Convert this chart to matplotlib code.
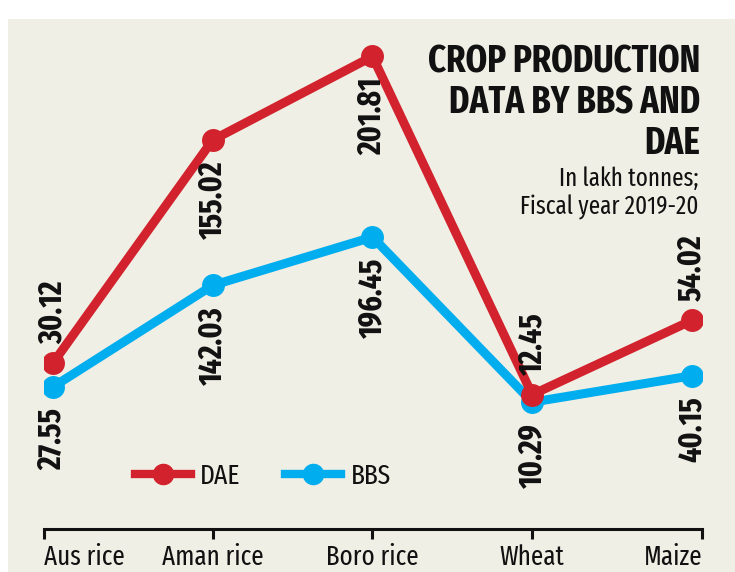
import matplotlib
matplotlib.use("Agg")
import matplotlib.pyplot as plt
from matplotlib import font_manager as fm
from matplotlib.patches import Rectangle
from matplotlib.lines import Line2D

# ---------------- data ----------------
crops = ["Aus rice", "Aman rice", "Boro rice", "Wheat", "Maize"]
dae = [30.12, 155.02, 201.81, 12.45, 54.02]
bbs = [27.55, 142.03, 196.45, 10.29, 40.15]
dae_label_above = [True, False, False, True, True]
title = "CROP PRODUCTION\nDATA BY BBS AND\nDAE"
subtitle = "In lakh tonnes;\nFiscal year 2019-20"

# ---------------- fonts ----------------
avail = {f.name for f in fm.fontManager.ttflist}
def pick(cands):
    for c in cands:
        if c in avail:
            return c
    return "DejaVu Sans"
COND = pick(["Fira Sans Extra Condensed", "Fira Sans Condensed", "Roboto Condensed",
             "PT Sans Narrow", "Liberation Sans Narrow"])
plt.rcParams["font.family"] = [COND, "DejaVu Sans"]

RED = "#d2222d"
BLUE = "#00adef"
BG = "#f0efe5"
INK = "#111111"

W, H = 735, 572
fig = plt.figure(figsize=(W / 100, H / 100), dpi=100)
fig.patch.set_facecolor("white")
fig.patches.append(Rectangle((8 / W, 0), 1, (H - 19) / H, transform=fig.transFigure,
                             facecolor=BG, edgecolor="none", zorder=-10))

def px(x0, y0, x1, y1):
    return [x0 / W, 1 - y1 / H, (x1 - x0) / W, (y1 - y0) / H]

ax = fig.add_axes(px(44, 30, 702, 529))
ax.set_facecolor("none")
ax2 = ax.twinx()
ax2.set_facecolor("none")

xs = list(range(len(crops)))
ax.set_xlim(-0.0563, 4.0626)
ax.set_ylim(-132.7, 429.9)    # BBS scale
ax2.set_ylim(-62.8, 216.6)    # DAE scale

lw = 6.5
ms = 15.5
ax.plot(xs, bbs, color=BLUE, lw=lw, marker="o", ms=ms, solid_capstyle="round", zorder=3)
ax2.plot(xs, dae, color=RED, lw=lw, marker="o", ms=ms, solid_capstyle="round", zorder=3)

lab_kw = dict(rotation=90, fontsize=23, fontweight="bold", color=INK, ha="center",
              textcoords="offset points", annotation_clip=False)
for x, v in zip(xs, bbs):
    ax.annotate(f"{v:.2f}", (x, v), xytext=(0, -15), va="top", **lab_kw)
for x, v, up in zip(xs, dae, dae_label_above):
    ax2.annotate(f"{v:.2f}", (x, v), xytext=(0, 14 if up else -15),
                 va="bottom" if up else "top", **lab_kw)

# axes styling
for a in (ax, ax2):
    for s in ("left", "right", "top"):
        a.spines[s].set_visible(False)
    a.set_yticks([])
ax2.spines["bottom"].set_visible(False)
ax.spines["bottom"].set_linewidth(2.2)
ax.spines["bottom"].set_color(INK)
x0, x1 = ax.get_xlim()
ax.set_xticks([x0, 1, 2, 3, x1])
ax.set_xticklabels(crops)
ax.tick_params(axis="x", direction="out", length=7, width=2.2, color=INK,
               labelsize=19.5, labelcolor=INK, pad=3.5)
tl = ax.get_xticklabels()
tl[0].set_ha("left")
tl[-1].set_ha("right")

# legend
handles = [Line2D([], [], color=RED, lw=6, marker="o", ms=14.5),
           Line2D([], [], color=BLUE, lw=6, marker="o", ms=14.5)]
leg = ax.legend(handles, ["DAE", "BBS"], ncol=2, frameon=False, fontsize=20,
                loc="center left", bbox_to_anchor=(135 / W, 1 - 476 / H),
                bbox_transform=fig.transFigure, borderpad=0, borderaxespad=0,
                handlelength=2.0, handletextpad=0.35, columnspacing=1.6,
                numpoints=1, labelcolor=INK)

# titles
fig.text(700 / W, 1 - 44 / H, title, ha="right", va="top", fontsize=27,
         fontweight="bold", color=INK, linespacing=1.12)
fig.text(699 / W, 1 - 166 / H, subtitle, ha="right", va="top", fontsize=18,
         color=INK, linespacing=1.2)

fig.savefig("out.png", dpi=100, facecolor=fig.get_facecolor())
